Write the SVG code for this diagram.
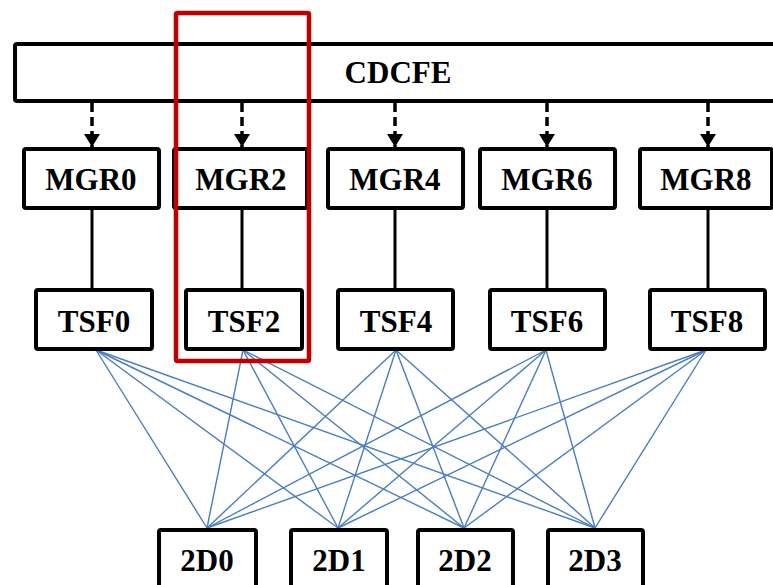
<svg xmlns="http://www.w3.org/2000/svg" width="773" height="585" viewBox="0 0 773 585">
  <defs>
    <marker id="arrow" viewBox="0 0 13 16" refX="13" refY="8" markerWidth="13" markerHeight="16" markerUnits="userSpaceOnUse" orient="auto">
      <path d="M0,0 L13,8 L0,16 Z" fill="#000"/>
    </marker>
    <style>
      .box { fill: #fff; stroke: #000; stroke-width: 4; }
      .lbl { fill: #000; text-anchor: middle; }
      .dash { stroke: #000; stroke-width: 3.5; stroke-dasharray: 9 5; fill: none; }
      .solid { stroke: #000; stroke-width: 3; fill: none; }
      .mesh { stroke: #4a7ebf; stroke-width: 1.4; fill: none; }
      .hl { fill: none; stroke: #c00000; stroke-width: 4.5; }
    </style>
  </defs>
  <rect width="773" height="585" fill="#fff"/>

  <!-- front-end bus -->
  <g id="cdcfe">
    <rect class="box" x="15" y="44" width="770" height="57" rx="2"/>
    <text class="lbl" font-family="Liberation Serif" font-weight="bold" font-size="31" x="398" y="83">CDCFE</text>
  </g>

  <!-- connectors -->
  <g id="connectors">
    <line class="dash" x1="92" y1="103" x2="92" y2="147" marker-end="url(#arrow)"/>
    <line class="dash" x1="242" y1="103" x2="242" y2="147" marker-end="url(#arrow)"/>
    <line class="dash" x1="395" y1="103" x2="395" y2="147" marker-end="url(#arrow)"/>
    <line class="dash" x1="547" y1="103" x2="547" y2="147" marker-end="url(#arrow)"/>
    <line class="dash" x1="708" y1="103" x2="708" y2="147" marker-end="url(#arrow)"/>

    <line class="solid" x1="92" y1="208" x2="92" y2="290"/>
    <line class="solid" x1="242" y1="208" x2="242" y2="290"/>
    <line class="solid" x1="395" y1="208" x2="395" y2="290"/>
    <line class="solid" x1="547" y1="208" x2="547" y2="290"/>
    <line class="solid" x1="708" y1="208" x2="708" y2="290"/>

    <!-- full mesh TSF -> 2D -->
    <g class="mesh">
      <line x1="96" y1="350" x2="207" y2="528"/>
      <line x1="96" y1="350" x2="338" y2="528"/>
      <line x1="96" y1="350" x2="464" y2="528"/>
      <line x1="96" y1="350" x2="595" y2="528"/>
      <line x1="243" y1="350" x2="207" y2="528"/>
      <line x1="243" y1="350" x2="338" y2="528"/>
      <line x1="243" y1="350" x2="464" y2="528"/>
      <line x1="243" y1="350" x2="595" y2="528"/>
      <line x1="396" y1="350" x2="207" y2="528"/>
      <line x1="396" y1="350" x2="338" y2="528"/>
      <line x1="396" y1="350" x2="464" y2="528"/>
      <line x1="396" y1="350" x2="595" y2="528"/>
      <line x1="546" y1="350" x2="207" y2="528"/>
      <line x1="546" y1="350" x2="338" y2="528"/>
      <line x1="546" y1="350" x2="464" y2="528"/>
      <line x1="546" y1="350" x2="595" y2="528"/>
      <line x1="706" y1="350" x2="207" y2="528"/>
      <line x1="706" y1="350" x2="338" y2="528"/>
      <line x1="706" y1="350" x2="464" y2="528"/>
      <line x1="706" y1="350" x2="595" y2="528"/>
    </g>
  </g>

  <!-- managers -->
  <g id="mgr0"><rect class="box" x="24" y="149" width="135" height="59" rx="2"/><text class="lbl" font-family="Liberation Serif" font-weight="bold" font-size="31" x="91" y="190">MGR0</text></g>
  <g id="mgr2"><rect class="box" x="174" y="149" width="133" height="59" rx="2"/><text class="lbl" font-family="Liberation Serif" font-weight="bold" font-size="31" x="241" y="190">MGR2</text></g>
  <g id="mgr4"><rect class="box" x="328" y="149" width="135" height="59" rx="2"/><text class="lbl" font-family="Liberation Serif" font-weight="bold" font-size="31" x="395" y="190">MGR4</text></g>
  <g id="mgr6"><rect class="box" x="480" y="149" width="135" height="59" rx="2"/><text class="lbl" font-family="Liberation Serif" font-weight="bold" font-size="31" x="547" y="190">MGR6</text></g>
  <g id="mgr8"><rect class="box" x="640" y="149" width="132" height="59" rx="2"/><text class="lbl" font-family="Liberation Serif" font-weight="bold" font-size="31" x="706" y="190">MGR8</text></g>

  <!-- switch fabrics -->
  <g id="tsf0"><rect class="box" x="36" y="290" width="116" height="59" rx="2"/><text class="lbl" font-family="Liberation Serif" font-weight="bold" font-size="31" x="94" y="332">TSF0</text></g>
  <g id="tsf2"><rect class="box" x="186" y="290" width="116" height="59" rx="2"/><text class="lbl" font-family="Liberation Serif" font-weight="bold" font-size="31" x="244" y="332">TSF2</text></g>
  <g id="tsf4"><rect class="box" x="338" y="290" width="115" height="59" rx="2"/><text class="lbl" font-family="Liberation Serif" font-weight="bold" font-size="31" x="396" y="332">TSF4</text></g>
  <g id="tsf6"><rect class="box" x="490" y="290" width="115" height="59" rx="2"/><text class="lbl" font-family="Liberation Serif" font-weight="bold" font-size="31" x="547" y="332">TSF6</text></g>
  <g id="tsf8"><rect class="box" x="650" y="290" width="115" height="59" rx="2"/><text class="lbl" font-family="Liberation Serif" font-weight="bold" font-size="31" x="707" y="332">TSF8</text></g>

  <!-- line cards -->
  <g id="d2d0"><rect class="box" x="159" y="530" width="97" height="70" rx="2"/><text class="lbl" font-family="Liberation Serif" font-weight="bold" font-size="31" x="207" y="571">2D0</text></g>
  <g id="d2d1"><rect class="box" x="291" y="530" width="96" height="70" rx="2"/><text class="lbl" font-family="Liberation Serif" font-weight="bold" font-size="31" x="339" y="571">2D1</text></g>
  <g id="d2d2"><rect class="box" x="418" y="530" width="95" height="70" rx="2"/><text class="lbl" font-family="Liberation Serif" font-weight="bold" font-size="31" x="465" y="571">2D2</text></g>
  <g id="d2d3"><rect class="box" x="548" y="530" width="95" height="70" rx="2"/><text class="lbl" font-family="Liberation Serif" font-weight="bold" font-size="31" x="595" y="571">2D3</text></g>

  <!-- highlighted slice -->
  <g id="highlight">
    <rect class="hl" x="176" y="13" width="133" height="348" rx="1.5"/>
  </g>
</svg>
